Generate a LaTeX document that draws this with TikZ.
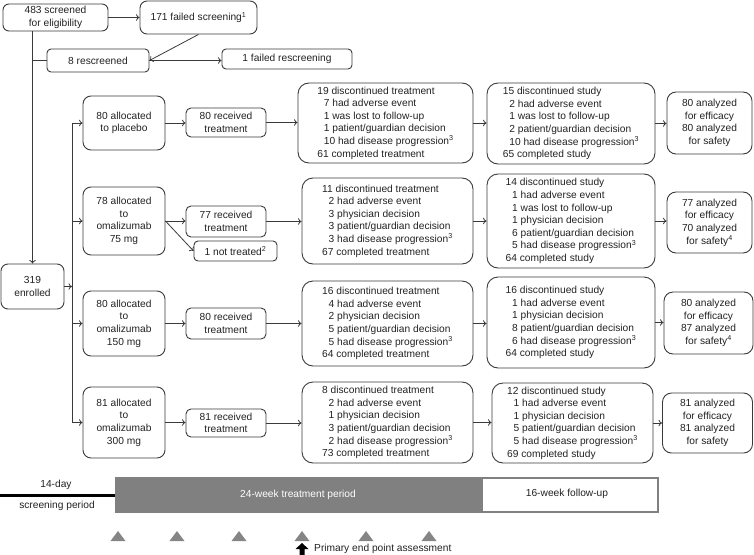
\documentclass[tikz,border=0pt]{standalone}
\usepackage{fontspec}
\setmainfont{Liberation Sans}
\usetikzlibrary{arrows.meta,calc}
\definecolor{linec}{HTML}{3A3A3A}
\definecolor{txt}{HTML}{222222}
\definecolor{barc}{HTML}{808080}
\definecolor{trig}{HTML}{858585}
\newcommand{\ind}{\hspace*{6.5pt}}
\newcommand{\sps}[1]{\textsuperscript{#1}}
\tikzset{
  box/.style={draw=linec, line width=0.9pt, rounded corners=6pt, align=center, inner sep=1pt, text=txt, font=\fontsize{10.2}{12.6}\selectfont},
  abox/.style={box, minimum width=82pt, rounded corners=8pt},
  rbox/.style={box, minimum width=80pt, rounded corners=5pt},
  lbox/.style={box, align=left, rounded corners=11pt},
  ebox/.style={box, rounded corners=9pt},
  lab/.style={text=txt, inner sep=0pt, font=\fontsize{10.2}{12.6}\selectfont},
  arr/.style={draw=linec, line width=0.8pt, -{To[length=3.5pt,width=6.5pt]}},
}

\begin{document}
\begin{tikzpicture}[x=1pt,y=-1pt]
\useasboundingbox (0,0) rectangle (754,554);
\node[box, minimum width=105pt, minimum height=27pt] (S) at (55.5,17.5) {483 screened\\for eligibility};
\node[box, minimum width=117pt, minimum height=33pt, rounded corners=7pt] (F) at (198.5,17.5) {171 failed screening\sps{1}};
\node[box, minimum width=102pt, minimum height=23pt, rounded corners=4pt] (R) at (98,60.5) {8 rescreened};
\node[box, minimum width=130pt, minimum height=20pt, rounded corners=4pt] (Q) at (287,59) {1 failed rescreening};
\node[box, minimum width=63pt, minimum height=45pt, rounded corners=7pt] (E) at (32.5,286.5) {319\\enrolled};
\coordinate (T) at (72,0);

\node[abox, minimum height=54pt] (A1) at (124,123) {80 allocated\\to placebo};
\node[abox, minimum height=68pt] (A2) at (124,221) {78 allocated\\to\\omalizumab\\75 mg};
\node[abox, minimum height=65pt] (A3) at (124,323.5) {80 allocated\\to\\omalizumab\\150 mg};
\node[abox, minimum height=71pt] (A4) at (124,422.5) {81 allocated\\to\\omalizumab\\300 mg};

\node[rbox, minimum height=29pt] (B1) at (226,122.5) {80 received\\treatment};
\node[rbox, minimum height=31pt] (B2) at (226,221.5) {77 received\\treatment};
\node[rbox, minimum height=31pt] (B3) at (226,323.5) {80 received\\treatment};
\node[rbox, minimum height=28pt] (B4) at (226,423) {81 received\\treatment};
\node[rbox, minimum width=83pt, minimum height=20pt, rounded corners=4pt] (N) at (235.5,251) {1 not treated\sps{2}};

\node[lbox, minimum width=175pt, minimum height=80pt] (C1) at (385.5,123) {19 discontinued treatment\\
\ind 7 had adverse event\\ \ind 1 was lost to follow-up\\ \ind 1 patient/guardian decision\\ \ind 10 had disease progression\sps{3}\\
61 completed treatment};
\node[lbox, minimum width=171pt, minimum height=86pt] (C2) at (387.5,221) {11 discontinued treatment\\
\ind 2 had adverse event\\ \ind 3 physician decision\\ \ind 3 patient/guardian decision\\ \ind 3 had disease progression\sps{3}\\
67 completed treatment};
\node[lbox, minimum width=171pt, minimum height=85pt] (C3) at (387.5,323.5) {16 discontinued treatment\\
\ind 4 had adverse event\\ \ind 2 physician decision\\ \ind 5 patient/guardian decision\\ \ind 5 had disease progression\sps{3}\\
64 completed treatment};
\node[lbox, minimum width=171pt, minimum height=81pt] (C4) at (387.5,422.5) {8 discontinued treatment\\
\ind 2 had adverse event\\ \ind 1 physician decision\\ \ind 3 patient/guardian decision\\ \ind 2 had disease progression\sps{3}\\
73 completed treatment};

\node[lbox, minimum width=168pt, minimum height=81pt] (D1) at (571,123.5) {15 discontinued study\\
\ind 2 had adverse event\\ \ind 1 was lost to follow-up\\ \ind 2 patient/guardian decision\\ \ind 10 had disease progression\sps{3}\\
65 completed study};
\node[lbox, minimum width=168pt, minimum height=94pt] (D2) at (571,221) {14 discontinued study\\
\ind 1 had adverse event\\ \ind 1 was lost to follow-up\\ \ind 1 physician decision\\ \ind 6 patient/guardian decision\\ \ind 5 had disease progression\sps{3}\\
64 completed study};
\node[lbox, minimum width=168pt, minimum height=91pt] (D3) at (571,322.5) {16 discontinued study\\
\ind 1 had adverse event\\ \ind 1 physician decision\\ \ind 8 patient/guardian decision\\ \ind 6 had disease progression\sps{3}\\
64 completed study};
\node[lbox, minimum width=161pt, minimum height=80pt] (D4) at (572.5,423) {12 discontinued study\\
\ind 1 had adverse event\\ \ind 1 physician decision\\ \ind 5 patient/guardian decision\\ \ind 5 had disease progression\sps{3}\\
69 completed study};

\node[ebox, minimum width=85pt, minimum height=62pt] (Z1) at (709.5,123) {80 analyzed\\for efficacy\\80 analyzed\\for safety};
\node[ebox, minimum width=85pt, minimum height=61pt] (Z2) at (709.5,222.5) {77 analyzed\\for efficacy\\70 analyzed\\for safety\sps{4}};
\node[ebox, minimum width=89pt, minimum height=62pt] (Z3) at (708.5,323) {80 analyzed\\for efficacy\\87 analyzed\\for safety\sps{4}};
\node[ebox, minimum width=90pt, minimum height=60pt] (Z4) at (707.5,423) {81 analyzed\\for efficacy\\81 analyzed\\for safety};

\draw [arr] (S) -- (F);
\draw [arr] (F.south) -- (R.east);
\draw [arr] (R.east) -- (R.east -| Q.west);
\draw [arr] (E.north |- S.south) -- (E.north);
\draw [draw=linec, line width=0.8pt] (R.west) -- (R.west -| E.north);
\draw [draw=linec, line width=0.8pt] (A1.west -| T) -- (A4.west -| T);
\draw [arr] (E.east) -- (E.east -| T);
\draw [arr] (A2.east) -- (N.west);
\foreach \i in {1,...,4} {
  \draw [arr] (A\i.west -| T) -- (A\i.west);
  \draw [arr] (A\i.east) -- (A\i.east -| B\i.west);
  \draw [arr] (B\i.east) -- (B\i.east -| C\i.west);
  \draw [arr] (C\i.east) -- (C\i.east -| D\i.west);
  \draw [arr] (D\i.east) -- (D\i.east -| Z\i.west);
}

\draw [line width=3pt, black] (0,495) -- (115,495);
\node[lab] (day) at (56,485) {14-day};
\node[lab] (scrp) at (57,506) {screening period};
\fill [barc] (115,477) rectangle (482,513);
\draw [barc, line width=1.6pt, fill=white] (482,477.8) rectangle (658.2,512.2);
\node[lab, text=white] (trt) at (298,495) {24-week treatment period};
\node[lab] (fu) at (567,494) {16-week follow-up};
\foreach \x in {118,177,239,302,366,429}
  \fill [trig] (\x-7.5,541) -- (\x+7.5,541) -- (\x,531) -- cycle;
\fill [black] (302,543) -- (308.5,549) -- (304.5,549) -- (304.5,556) -- (299.5,556) -- (299.5,549) -- (295.5,549) -- cycle;
\node[lab, anchor=west] (pep) at (314,549) {Primary end point assessment};
\end{tikzpicture}
\end{document}
